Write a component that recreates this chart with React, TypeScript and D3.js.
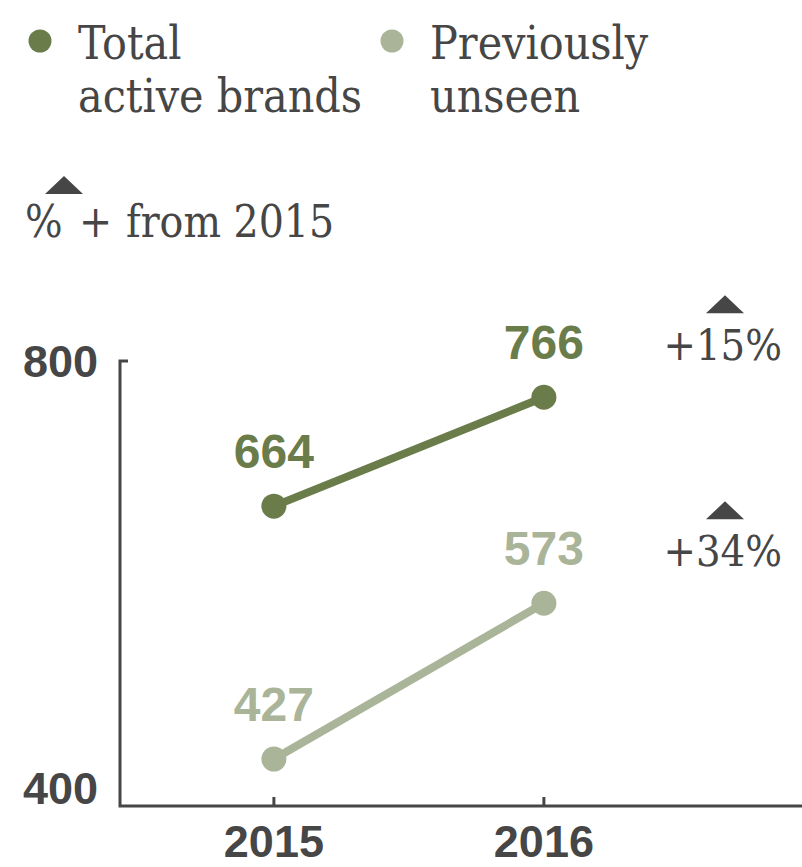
import React from "react";
import * as d3 from "d3";

const years = [2015, 2016];
const totalActive = [664, 766];
const previouslyUnseen = [427, 573];
const seriesNames = [["Total", "active brands"], ["Previously", "unseen"]];
const seriesColors = ["#6b7c4b", "#aab498"];
const changeLabels = ["+15%", "+34%"];
const yTickValues = [800, 400];
const noteText = ["%", "+", "from 2015"];

const W = 802;
const H = 867;
const TEXT = "#464646";
const SERIF = "'DejaVu Serif Condensed', 'DejaVu Serif', serif";
const SANS = "'Liberation Sans', Arial, sans-serif";

export default function App() {
  const x = d3.scaleLinear().domain([2014.43, 2016.956]).range([120, 802]);
  const y = d3.scaleLinear().domain([383, 800]).range([806, 361]);
  const series = [totalActive, previouslyUnseen];
  const line = d3
    .line<number>()
    .x((_, i) => x(years[i]))
    .y((d) => y(d));

  const tri = (cx: number, top: number) =>
    `M${cx - 19},${top + 18}L${cx},${top}L${cx + 19},${top + 18}Z`;

  const [x0, x1] = x.range();
  const [yb, yt] = y.range();

  return (
    <svg width={W} height={H} style={{ display: "block", position: "absolute", left: 0, top: 0 }}>
      <rect width={W} height={H} fill="#fff" />
      {/* legend */}
      {seriesNames.map((lines, k) => {
        const lx = k === 0 ? 40 : 392;
        return (
          <g key={k}>
            <circle cx={lx} cy={41} r={11.5} fill={seriesColors[k]} />
            {lines.map((t, j) => (
              <text
                key={j}
                x={lx + 38}
                y={59 + j * 53}
                fontFamily={SERIF}
                fontStretch="condensed"
                fontSize={46}
                fill={TEXT}
              >
                {t}
              </text>
            ))}
          </g>
        );
      })}
      {/* note */}
      <path d={tri(64, 176)} fill={TEXT} />
      <text x={25} y={237} fontFamily={SERIF} fontStretch="condensed" fontSize={44} fill={TEXT}>
        <tspan x={25}>{noteText[0]}</tspan>
        <tspan x={79}>{noteText[1]}</tspan>
        <tspan x={126}>{noteText[2]}</tspan>
      </text>

      {/* axes */}
      <path
        d={`M${x0 + 8},${yt}H${x0}V${yb}H${x1}`}
        fill="none"
        stroke={TEXT}
        strokeWidth={3}
      />
      {years.map((yr) => (
        <line key={yr} x1={x(yr)} x2={x(yr)} y1={yb - 9} y2={yb} stroke={TEXT} strokeWidth={3} />
      ))}
      {yTickValues.map((v) => (
        <text
          key={v}
          x={98}
          y={y(v) + 16}
          textAnchor="end"
          fontFamily={SANS}
          fontWeight="bold"
          fontSize={45}
          fill={TEXT}
        >
          {v}
        </text>
      ))}
      {years.map((yr) => (
        <text
          key={yr}
          x={x(yr)}
          y={857}
          textAnchor="middle"
          fontFamily={SANS}
          fontWeight="bold"
          fontSize={45}
          fill={TEXT}
        >
          {yr}
        </text>
      ))}

      {/* series */}
      {series.map((vals, k) => (
        <g key={k}>
          <path d={line(vals) || ""} fill="none" stroke={seriesColors[k]} strokeWidth={8} />
          {vals.map((v, i) => (
            <g key={i}>
              <circle cx={x(years[i])} cy={y(v)} r={12.5} fill={seriesColors[k]} />
              <text
                x={x(years[i])}
                y={y(v) - 38}
                textAnchor="middle"
                fontFamily={SANS}
                fontWeight="bold"
                fontSize={48}
                fill={seriesColors[k]}
              >
                {v}
              </text>
            </g>
          ))}
          <path d={tri(725, y(vals[1]) - 102)} fill={TEXT} />
          <text
            x={782}
            y={y(vals[1]) - 37}
            textAnchor="end"
            fontFamily={SERIF}
            fontStretch="condensed"
            fontSize={43}
            fill={TEXT}
          >
            {changeLabels[k]}
          </text>
        </g>
      ))}
    </svg>
  );
}
